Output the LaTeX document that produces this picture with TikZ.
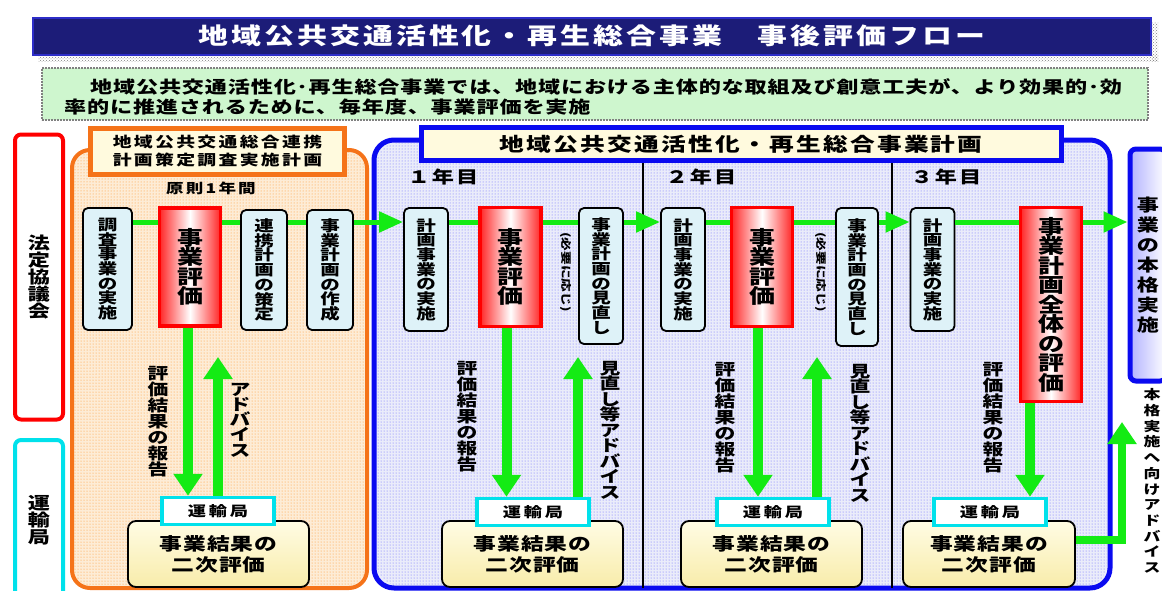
\documentclass[tikz,border=0pt]{standalone}
\usepackage{fontspec}
\setmainfont{Noto Sans CJK JP}[FakeStretch=1.3]
\usetikzlibrary{patterns,arrows.meta}
\newcommand\fsz[2]{\fontsize{#1}{#2}\selectfont\bfseries}
\newcommand\spaced[1]{\addfontfeature{LetterSpace=#1}}
\definecolor{navy}{RGB}{28,28,120}
\definecolor{navyedge}{RGB}{45,45,200}
\definecolor{mint}{RGB}{206,246,206}
\definecolor{flowgreen}{RGB}{20,235,20}
\definecolor{planfill}{RGB}{222,242,248}
\definecolor{peach}{RGB}{253,236,214}
\definecolor{lavender}{RGB}{234,236,250}
\definecolor{labelyellow}{RGB}{255,250,222}
\definecolor{bureaucyan}{RGB}{0,225,235}
\definecolor{panelorange}{RGB}{245,115,25}
\definecolor{panelblue}{RGB}{10,10,240}
\definecolor{resulttop}{RGB}{255,252,228}
\definecolor{resultbottom}{RGB}{248,236,170}
\begin{document}
\begin{tikzpicture}[x=1pt,y=-1pt]

    \tikzset{
      planbox/.style={
        draw=black,
        line width=1.8pt,
        rounded corners=5pt,
        fill=planfill,
        inner sep=0pt,
        align=center,
        font=\fsz{15}{14.7},
      },
      evalbox/.style={
        draw=red,
        line width=3.5pt,
        left color=red!85,
        right color=red!85,
        middle color=white,
        inner sep=0pt,
        align=center,
        font=\fsz{20}{19.5},
      },
      bureaubox/.style={
        draw=bureaucyan,
        line width=3.5pt,
        fill=white,
        inner sep=0pt,
        minimum width=112pt,
        minimum height=27pt,
        font=\fsz{14}{14}\spaced{20},
      },
      resultbox/.style={
        draw=black,
        line width=1.8pt,
        rounded corners=8pt,
        top color=resulttop,
        bottom color=resultbottom,
        inner sep=0pt,
        minimum height=66pt,
        align=center,
        font=\fsz{17.5}{21}\spaced{6},
      },
      vlabel/.style={inner sep=0pt, align=center, font=\fsz{16}{16}},
      yearlabel/.style={inner sep=0pt, font=\fsz{17}{17}\spaced{12}},
      flowline/.style={draw=flowgreen, line width=5pt},
      flowarrow/.style={flowline, -{Triangle[length=24pt,width=20pt]}},
      bigarrow/.style={draw=flowgreen, line width=10pt, -{Triangle[length=22pt,width=28pt]}},
    }
    \useasboundingbox (0,0) rectangle (1162,590);
    \clip (0,0) rectangle (1162,590);

    % title and lead text
    \fill[pattern=crosshatch dots, pattern color=gray] (38,55) rectangle (1158,61);
    \fill[pattern=crosshatch dots, pattern color=gray] (1152,22) rectangle (1158,61);
    \node[draw=navyedge, line width=2pt, fill=navy, minimum width=1118pt, minimum height=37pt,
      text=white, font=\fsz{23}{23}\spaced{13}] (title) at (592,36)
      {地域公共交通活性化・再生総合事業　事後評価フロー};
    \node[draw=gray, densely dotted, line width=2pt, fill=mint, minimum width=1106pt,
      minimum height=52pt] (lead) at (595,94) {};
    \node[anchor=west, align=left, inner sep=0pt, font=\fsz{17}{20}\spaced{5}] (leadtext) at (64,97)
      {\hspace*{26pt}地域公共交通活性化･再生総合事業では、地域における主体的な取組及び創意工夫が、より効果的･効\\率的に推進されるために、毎年度、事業評価を実施};

    % left column
    \node[draw=red, line width=4pt, rounded corners=6pt, fill=white, minimum width=48pt,
      minimum height=285pt, align=center, inner sep=0pt, font=\fsz{17}{17}] (council) at (39,277)
      {法\\定\\協\\議\\会};
    \node[draw=bureaucyan, line width=4pt, rounded corners=6pt, fill=white, minimum width=48pt,
      minimum height=160pt, align=center, inner sep=0pt, font=\fsz{17}{17}] (bureau) at (39,520)
      {運\\輸\\局};

    % panels
    \draw[panelorange, line width=4pt, rounded corners=18pt, fill=peach] (72,150) rectangle (367,588);
    \fill[pattern=dots, pattern color=orange!85, rounded corners=18pt] (74,152) rectangle (365,586);
    \draw[panelblue, line width=5pt, rounded corners=20pt, fill=lavender] (374,140) rectangle (1110,588);
    \fill[pattern=dots, pattern color=blue!60, rounded corners=20pt] (377,143) rectangle (1107,585);
    \draw[black, line width=2.5pt] (643,162) -- (643,588);
    \draw[black, line width=2.5pt] (892,162) -- (892,588);

    \node[draw=panelorange, line width=5pt, fill=labelyellow, minimum width=254pt, minimum height=46pt,
      align=center, inner sep=0pt, font=\fsz{14.5}{18}\spaced{16}] (survey) at (217.5,151)
      {地域公共交通総合連携\\計画策定調査実施計画};
    \node[draw=panelblue, line width=5pt, fill=labelyellow, minimum width=640pt, minimum height=33pt,
      inner sep=0pt, font=\fsz{19}{19}\spaced{12}] (plan) at (741,144)
      {地域公共交通活性化・再生総合事業計画};
    \node[inner sep=0pt, font=\fsz{13.5}{13.5}\spaced{16}] (oneyear) at (211,188) {原則1年間};
    \node[yearlabel] (year1) at (443,177) {１年目};
    \node[yearlabel] (year2) at (701,177) {２年目};
    \node[yearlabel] (year3) at (946,177) {３年目};

    % right end
    \node[draw=panelblue, line width=5pt, rounded corners=6pt, left color=blue!30, right color=white,
      minimum width=36pt, minimum height=232pt, align=center, inner sep=0pt, font=\fsz{17}{20}] (full)
      at (1148,265) {事\\業\\の\\本\\格\\実\\施};
    \node[vlabel, font=\fsz{13}{15.7}] (fulladv) at (1152,481)
      {本\\格\\実\\施\\へ\\向\\け\\ア\\ド\\バ\\イ\\ス};

    % flow boxes
    \coordinate (flow) at (0,222);
    \node[planbox, minimum width=49pt, minimum height=122pt] (b1) at (107.5,269) {調\\査\\事\\業\\の\\実\\施};
    \node[evalbox, minimum width=61pt, minimum height=118pt] (e0) at (190,267) {事\\業\\評\\価};
    \node[planbox, minimum width=46pt, minimum height=120pt] (b2) at (264,270) {連\\携\\計\\画\\の\\策\\定};
    \node[planbox, minimum width=46pt, minimum height=120pt] (b3) at (330,270) {事\\業\\計\\画\\の\\作\\成};

    \node[planbox, minimum width=44pt, minimum height=123pt] (p1) at (426,269.5) {計\\画\\事\\業\\の\\実\\施};
    \node[evalbox, minimum width=61pt, minimum height=119pt] (e1) at (510.5,267) {事\\業\\評\\価};
    \node[inner sep=0pt, rotate=-90, font=\fsz{10.5}{10}] (n1) at (566,272) {(必要に応じ)};
    \node[planbox, minimum width=44pt, minimum height=136pt] (m1) at (601,276) {事\\業\\計\\画\\の\\見\\直\\し};

    \node[planbox, minimum width=44pt, minimum height=123pt] (p2) at (683,269.5) {計\\画\\事\\業\\の\\実\\施};
    \node[evalbox, minimum width=61pt, minimum height=119pt] (e2) at (762,267) {事\\業\\評\\価};
    \node[inner sep=0pt, rotate=-90, font=\fsz{10.5}{10}] (n2) at (821,272) {(必要に応じ)};
    \node[planbox, minimum width=42pt, minimum height=138pt] (m2) at (857,277) {事\\業\\計\\画\\の\\見\\直\\し};

    \node[planbox, minimum width=44pt, minimum height=123pt] (p3) at (932.5,269.5) {計\\画\\事\\業\\の\\実\\施};
    \node[evalbox, minimum width=61pt, minimum height=194pt] (e3) at (1051,304.5)
      {事\\業\\計\\画\\全\\体\\の\\評\\価};

    % horizontal flow
    \draw[flowline] (b1.east |- flow) -- (e0.west |- flow);
    \draw[flowline] (e0.east |- flow) -- (b2.west |- flow);
    \draw[flowline] (b2.east |- flow) -- (b3.west |- flow);
    \draw[flowarrow] (b3.east |- flow) -- (p1.west |- flow);
    \draw[flowline] (p1.east |- flow) -- (e1.west |- flow);
    \draw[flowline] (e1.east |- flow) -- (m1.west |- flow);
    \draw[flowarrow] (m1.east |- flow) -- (p2.west |- flow);
    \draw[flowline] (p2.east |- flow) -- (e2.west |- flow);
    \draw[flowline] (e2.east |- flow) -- (m2.west |- flow);
    \draw[flowarrow] (m2.east |- flow) -- (p3.west |- flow);
    \draw[flowline] (p3.east |- flow) -- (e3.west |- flow);
    \draw[flowarrow] (e3.east |- flow) -- (full.west |- flow);

    % secondary evaluation
    \node[resultbox, minimum width=181pt] (s0) at (218.5,554) {事業結果の\\二次評価};
    \node[resultbox, minimum width=181pt] (s1) at (532.5,554) {事業結果の\\二次評価};
    \node[resultbox, minimum width=181pt] (s2) at (771.5,554) {事業結果の\\二次評価};
    \node[resultbox, minimum width=172pt] (s3) at (989,554) {事業結果の\\二次評価};
    \node[bureaubox] (r0) at (218,511) {運輸局};
    \node[bureaubox] (r1) at (533,512) {運輸局};
    \node[bureaubox] (r2) at (773,512) {運輸局};
    \node[bureaubox] (r3) at (990,512) {運輸局};

    % reports and advice
    \coordinate (advtop) at (0,357);
    \draw[bigarrow] ([xshift=-2pt]e0.south) -- ([xshift=-2pt]e0.south |- r0.north);
    \draw[bigarrow] (r0.north) -- (r0.north |- advtop);
    \draw[bigarrow] ([xshift=-4pt]e1.south) -- ([xshift=-4pt]e1.south |- r1.north);
    \draw[bigarrow] ([xshift=45pt]r1.north) -- ([xshift=45pt]r1.north |- advtop);
    \draw[bigarrow] ([xshift=-4pt]e2.south) -- ([xshift=-4pt]e2.south |- r2.north);
    \draw[bigarrow] ([xshift=44pt]r2.north) -- ([xshift=44pt]r2.north |- advtop);
    \draw[bigarrow] ([xshift=-21pt]e3.south) -- ([xshift=-21pt]e3.south |- r3.north);
    \coordinate (fulltip) at (1122,422);
    \draw[bigarrow, line width=8pt] ([yshift=14pt]s3.east) -| (fulltip);

    \node[vlabel] (rep0) at (158,422) {評\\価\\結\\果\\の\\報\\告};
    \node[vlabel, font=\fsz{16}{15.2}] (adv0) at (240,420) {ア\\ド\\バ\\イ\\ス};
    \node[vlabel] (rep1) at (467,417) {評\\価\\結\\果\\の\\報\\告};
    \node[vlabel, font=\fsz{16}{15.5}] (adv1) at (610,430) {見\\直\\し\\等\\ア\\ド\\バ\\イ\\ス};
    \node[vlabel] (rep2) at (725,418) {評\\価\\結\\果\\の\\報\\告};
    \node[vlabel, font=\fsz{16}{15.5}] (adv2) at (860,433) {見\\直\\し\\等\\ア\\ド\\バ\\イ\\ス};
    \node[vlabel] (rep3) at (993,418) {評\\価\\結\\果\\の\\報\\告};

\end{tikzpicture}
\end{document}
